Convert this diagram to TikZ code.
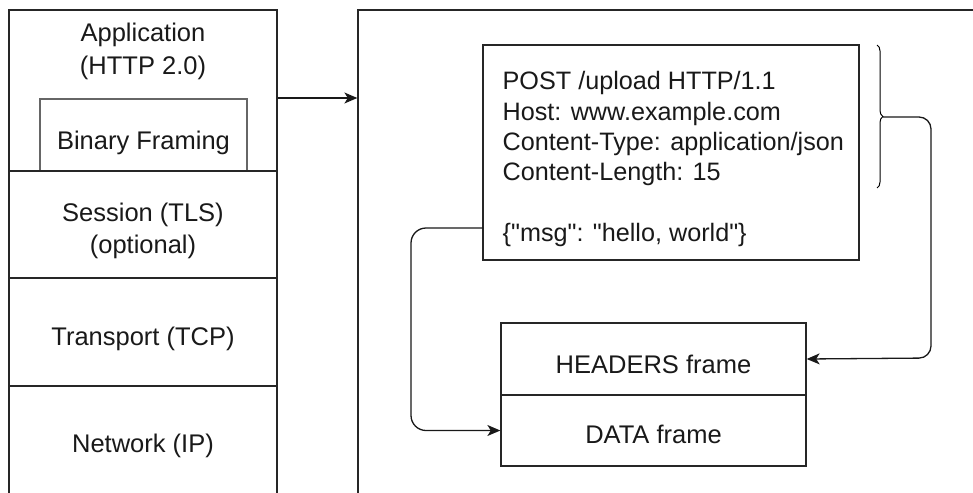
\documentclass[tikz,border=0pt]{standalone}
\usepackage{fontspec}
\setmainfont{Liberation Sans}[Ligatures=TeXOff]
\usetikzlibrary{arrows.meta,decorations.pathreplacing}
\begin{document}
\begin{tikzpicture}[x=1pt,y=-1pt,
  line width=1.3pt,
  every node/.style={font=\fontsize{25.5}{33}\selectfont, text=black!90, inner sep=0pt},
  layer/.style={draw=black!85, rectangle, minimum width=268pt},
  frm/.style={draw=black!85, rectangle, minimum width=305pt},
  lbl/.style={align=center},
  link/.style={draw=black!90, -{Stealth[length=13pt,width=11pt,inset=3.5pt]}},
]
\useasboundingbox (0,0) rectangle (973,492);
\clip (0,0) rectangle (973,492);

% protocol stack
\node[layer, minimum height=161pt] (app) at (143,90.5) {};
\node[lbl] (applbl) at (143,51) {Application\\(HTTP 2.0)};
\node[draw=black!60, rectangle, minimum width=207pt, minimum height=72pt] (bin) at (143.5,135) {};
\node[lbl] (binlbl) at (143.5,143) {Binary Framing};
\node[layer, minimum height=107pt] (sess) at (143,224.5) {};
\node[lbl, font=\fontsize{25.5}{32}\selectfont] (sesslbl) at (143,231) {Session (TLS)\\(optional)};
\node[layer, minimum height=108pt] (trans) at (143,332) {};
\node[lbl] (translbl) at (143,339) {Transport (TCP)};
\node[layer, minimum height=130pt] (net) at (143,451) {};
\node[lbl] (netlbl) at (143,446) {Network (IP)};

% HTTP/2 connection panel
\node[draw=black!85, rectangle, minimum width=640pt, minimum height=520pt] (conn) at (678,270) {};
\draw[link] (app.east |- 0,98) -- (conn.west |- 0,98);

% HTTP/1.1 request
\node[draw=black!85, rectangle, minimum width=376pt, minimum height=215pt] (req) at (671,152.5) {};
\node[anchor=north west, align=left, font=\fontsize{25.2}{30.3}\selectfont] (reqtxt) at (502,71) {POST /upload HTTP/1.1\\Host: www.example.com\\Content-Type: application/json\\Content-Length: 15\\[30.3pt]\{"msg": "hello, world"\}};

% frames
\node[frm, minimum height=72pt] (hdr) at (653.5,359) {};
\node[lbl] (hdrlbl) at (653.5,364) {HEADERS frame};
\node[frm, minimum height=71pt] (data) at (653.5,430.5) {};
\node[lbl] (datalbl) at (653.5,434) {DATA frame};

% header brace and its connector
\coordinate (btop) at (877,45);
\coordinate (bbot) at (877,188);
\coordinate (btip) at (883,117);
\draw[line width=1pt, decorate, decoration={brace, amplitude=6pt}] (btop) -- (bbot);
\draw[link, rounded corners=12pt] (btip) -- (931,117) -- (931,358) -- (hdr.east);

% body connector
\coordinate (body) at (483,228);
\draw[link, rounded corners=15pt] (body) -- (411,228) -- (411,430.5) -- (data.west);
\end{tikzpicture}
\end{document}
